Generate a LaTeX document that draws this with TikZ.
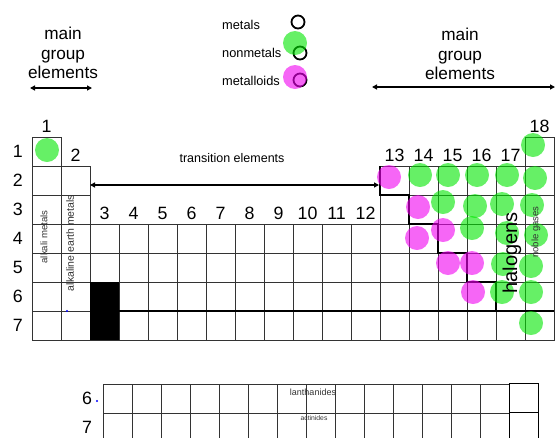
\documentclass[tikz,border=0pt]{standalone}
\usepackage{fontspec}
\setmainfont{Liberation Sans}
\usetikzlibrary{positioning, arrows.meta}

\begin{document}
\begin{tikzpicture}[
  x=1pt, y=-1pt,
  cell/.style={draw=black!80, line width=0.9pt, minimum size=29pt,
               inner sep=0pt, outer sep=0pt},
  num/.style={font=\fontsize{17.8}{19}\selectfont, inner sep=0pt},
  head/.style={font=\fontsize{17.2}{19.5}\selectfont, align=center},
  key/.style={font=\fontsize{12.8}{14}\selectfont, anchor=west, inner sep=0pt},
  side/.style={rotate=90, text=black!80, inner sep=0pt},
  dot/.style={circle, inner sep=0pt, minimum size=24pt},
  nm/.style={dot, fill={rgb,255:red,0;green,230;blue,0}, fill opacity=0.6},
  md/.style={dot, fill={rgb,255:red,240;green,0;blue,240}, fill opacity=0.6},
  ring/.style={circle, draw, line width=1.8pt, inner sep=0pt, minimum size=13pt},
  arr/.style={{Triangle[length=5pt,width=5pt]}-{Triangle[length=5pt,width=5pt]},
              line width=1.3pt},
  stair/.style={line width=2pt}
]
\useasboundingbox (0,0) rectangle (556,437);
\clip (0,0) rectangle (556,437);

% main table
\foreach \r/\cols in {1/{1,18}, 2/{1,2,13,14,15,16,17,18}, 3/{1,2,13,14,15,16,17,18},
                      4/{1,...,18}, 5/{1,...,18}, 6/{1,...,18}, 7/{1,...,18}}
  \foreach \c in \cols
    \node[cell] (c\r-\c) at (17.5+29*\c, 122.5+29*\r) {};
\fill (c6-3.north west) rectangle (c7-3.south east);
\draw[line width=1.4pt] (c6-4.south west) -- (c6-18.south east);
\draw[stair] (c2-13.north west) -- (c2-13.south west) -- (c3-14.north west)
  -- (c3-14.south west) -- (c4-15.north west) -- (c4-15.south west)
  -- (c5-16.north west) -- (c5-16.south west) -- (c6-17.north west)
  -- (c6-17.south west) -- (c6-17.south east);

% group and period numbers
\foreach \c/\r in {1/1,2/2,3/4,4/4,5/4,6/4,7/4,8/4,9/4,10/4,11/4,12/4,
                   13/2,14/2,15/2,16/2,17/2,18/1}
  \node[num, above=4.5pt of c\r-\c] (g\c) {\c};
\foreach \r in {1,...,7}
  \node[num, left=9pt of c\r-1] (p\r) {\r};

% lanthanides and actinides
\foreach \i in {1,...,14} {
  \node[cell] (l6-\i) at (88.8+29*\i, 398.5) {};
  \node[cell] (l7-\i) at (88.8+29*\i, 427.5) {};
}
\node[cell, draw=black, line width=1.4pt] (l6-15) at (523.8, 398) {};
\node[cell, draw=black, line width=1.4pt] (l7-15) at (523.8, 427) {};
\node[num, left=11pt of l6-1] (q6) {6};
\node[num, left=11pt of l7-1] (q7) {7};
\node[font=\fontsize{9}{10}\selectfont, text=black!80] (lan) at (313,392) {lanthanides};
\node[font=\fontsize{6.8}{8}\selectfont, text=black!80] (act) at (314,418) {actinides};

% nonmetals and metalloids
\foreach \x/\y [count=\k] in {47/150, 533/145, 420/175, 448/175, 477/175, 507/175,
    535/178, 443/202, 475/206, 502/204, 532/205, 472/228, 507/233, 536/235,
    503/264, 531/266, 502/292, 531/292, 531/323}
  \node[nm] (nm\k) at (\x,\y) {};
\foreach \x/\y [count=\k] in {389/177, 418/207, 417/238, 443/230, 448/263,
    472/263, 473/292}
  \node[md] (md\k) at (\x,\y) {};

% family names
\node[side, font=\fontsize{9.6}{11}\selectfont] (alk) at (44,237) {alkali metals};
\node[side, font=\fontsize{10.5}{12}\selectfont] (ae) at (70,243) {alkaline earth metals};
\node[side, text=black, font=\fontsize{20}{22}\selectfont] (hal) at (512,253) {halogens};
\node[side, font=\fontsize{9.5}{11}\selectfont] (nob) at (536,232) {noble gases};
\fill[blue] (67,311) circle (1.2);
\fill[blue] (97,401) circle (1.1);

% headings
\node[head] (mg1) at (63,53) {main\\group\\elements};
\node[head] (mg2) at (460,54) {main\\group\\elements};
\coordinate (a1) at (30,88);
\coordinate (b1) at (92,88);
\coordinate (a2) at (372,87);
\coordinate (b2) at (555,87);
\draw[arr] (a1) -- (b1);
\draw[arr] (a2) -- (b2);
\node[font=\fontsize{12.5}{14}\selectfont] (tr) at (232,158) {transition elements};
\coordinate (a3) at (90,185);
\coordinate (b3) at (379,185);
\draw[arr] (a3) -- (b3);

% legend
\node[key] (k1) at (222,25) {metals};
\node[key] (k2) at (222,53) {nonmetals};
\node[key] (k3) at (222,81) {metalloids};
\node[ring] (r1) at (298,22) {};
\node[ring] (r2) at (300,53) {};
\node[ring] (r3) at (300,80) {};
\node[nm] (kn) at (295,43) {};
\node[md] (km) at (295,77) {};
\end{tikzpicture}
\end{document}
